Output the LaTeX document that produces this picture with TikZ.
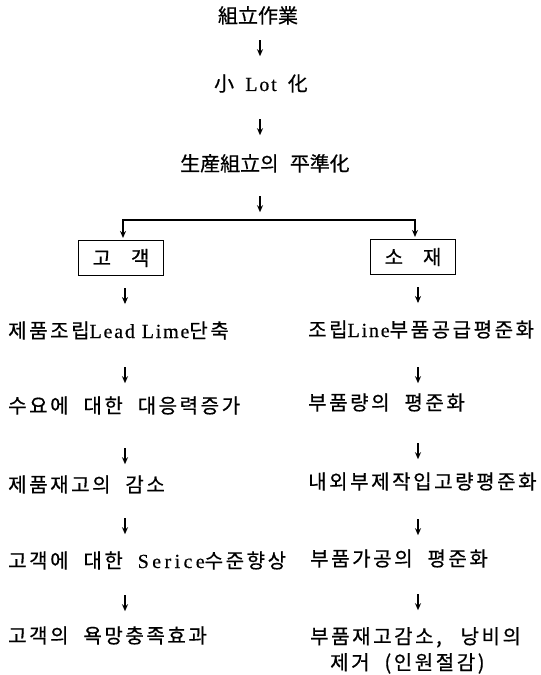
\documentclass[tikz,border=0pt]{standalone}
\usepackage{fontspec}
\newfontfamily\kr{Noto Sans CJK KR}[LetterSpace=13,WordSpace=2.1,FakeBold=0.6]
\newfontfamily\krn{Noto Sans CJK KR}[WordSpace=2.5,FakeBold=0.6]
\newfontfamily\lat{Liberation Serif}[LetterSpace=9,FakeBold=0.5]
\newfontfamily\latw{Liberation Serif}[LetterSpace=17,FakeBold=0.5]
\usetikzlibrary{arrows.meta,calc}
\tikzset{
  txt/.style={inner sep=0pt, text height=14bp, text depth=4bp, font=\fontsize{20bp}{22bp}\selectfont\kr},
  ctrtxt/.style={txt, font=\fontsize{20bp}{22bp}\selectfont\krn},
  lefttxt/.style={txt, anchor=west},
  arr/.style={-{Stealth[length=7bp,width=6bp]}, line width=1.2bp},
  boxnode/.style={draw, line width=1.1bp, minimum width=85bp, minimum height=35bp, inner sep=0pt,
    font=\fontsize{20bp}{22bp}\selectfont\kr},
}
\newcommand\dnarrow[3]{\draw[arr] ($(#1.south -| #2)+(0,#3)$) -- ++(0,16);}
\begin{document}
\begin{tikzpicture}[x=1bp,y=-1bp]
\useasboundingbox (0,0) rectangle (541,675);
\coordinate (cC) at (260,0);
\coordinate (cL) at (125,0);
\coordinate (cR) at (418,0);
% center column
\node[ctrtxt] (t1) at (258,18) {組立作業};
\node[ctrtxt] (t2) at (261,86) {小 {\lat Lot} 化};
\node[ctrtxt] (t3) at (265,166) {生産組立의 平準化};
\coordinate (fork) at (260,220);
\node[boxnode] (b1) at (121,258) {고\hspace{20bp}객};
\node[boxnode] (b2) at (413,257) {소\hspace{20bp}재};
% left column
\node[lefttxt] (l1) at (8,333) {제품조립{\lat Lead Lime}단축};
\node[lefttxt] (l2) at (8,408) {수요에 대한 대응력증가};
\node[lefttxt] (l3) at (8,487) {제품재고의 감소};
\node[lefttxt] (l4) at (8,563) {고객에 대한 {\latw Serice}수준향상};
\node[lefttxt] (l5) at (8,638) {고객의 욕망충족효과};
% right column
\node[lefttxt] (r1) at (308,332) {조립{\lat Line}부품공급평준화};
\node[lefttxt] (r2) at (308,405) {부품량의 평준화};
\node[lefttxt] (r3) at (308,484) {내외부제작입고량평준화};
\node[lefttxt] (r4) at (310,561) {부품가공의 평준화};
\node[inner sep=0pt, anchor=north west, align=left, font=\fontsize{20bp}{26bp}\selectfont\kr] (r5) at (310,627)
  {부품재고감소,\hspace{4bp} 낭비의\\\hspace*{20bp}제거 (인원절감)};
% arrows
\dnarrow{t1}{cC}{13}
\dnarrow{t2}{cC}{24}
\dnarrow{t3}{cC}{21}
\draw[arr, shorten >=2bp] (fork) -| ($(b1.north)+(2,0)$);
\draw[arr, shorten >=2bp] (fork) -| ($(b2.north)+(2,0)$);
\dnarrow{b1}{cL}{12}
\dnarrow{b2}{cR}{12}
\dnarrow{l1}{cL}{25}
\dnarrow{l2}{cL}{31}
\dnarrow{l3}{cL}{22}
\dnarrow{l4}{cL}{23}
\dnarrow{r1}{cR}{26}
\dnarrow{r2}{cR}{29}
\dnarrow{r3}{cR}{26}
\dnarrow{r4}{cR}{24}
\end{tikzpicture}
\end{document}
